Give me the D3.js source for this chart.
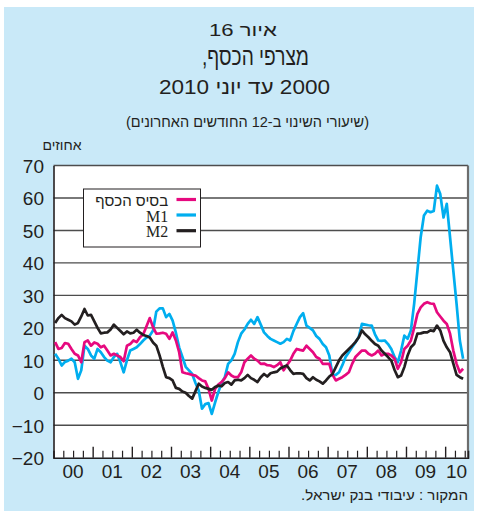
<!DOCTYPE html>
<html><head><meta charset="utf-8">
<script src="https://cdn.jsdelivr.net/npm/d3@7"></script>
<style>body{margin:0;background:#fff}svg{display:block}</style>
</head><body>
<svg id="c" width="478" height="518"></svg>
<script>
// Monthly data, Jan 2000 .. Jun 2010 (12-month % change)
const monetaryBase = [15.6,13.5,13.8,15.3,15.1,13.5,12,11.5,9.4,15.6,16.1,14.5,
15.5,15.1,14,14.5,13,11.5,12,11.5,11,9.7,14.5,15,
16.1,15.6,17.1,18,20.5,23,20.2,18.2,18.3,18.5,18.2,16.6,
18.6,16.1,12.5,6.3,6,5.8,5.5,5.3,4.5,3.8,3.5,1.2,
-2.4,1.2,2.5,3.3,4.5,6.3,5.3,4.8,4.8,6.3,9.4,10.5,
11.5,10.5,9.9,8.9,9,8.5,8.4,7.9,8.5,9.4,6.9,8.5,
9.9,12,13.5,13.2,13,14.5,13.5,12.5,11,10.5,8.9,8.9,
8.9,5.5,3.8,4.3,4.8,5.5,6.3,8.9,11,12,13,13,
12,11.5,12,13,11.5,12,12,11.5,10.5,7.4,9.4,13.5,
14.5,16.1,20,24.3,26.3,27.4,27.9,27.5,27.4,24.8,23.5,22.2,
21.2,18.2,13,8.9,6.3,7.4];
const m1 = [12,10.5,8.4,9.5,9.9,10.5,9.4,4.3,6.9,14.5,13.5,11.5,
10.5,13.5,12.5,11,9.9,9.4,11,12,9.4,6.3,10,13,
13.5,14,15,16.1,17,17.6,19.2,25,26,26,23.3,24.3,
22.2,18.5,14,11,8,6.9,5.8,3,0.7,-4.9,-3.5,-3.2,
-6.5,-3,0.2,3,4.8,8.9,10,12,15.6,18.2,19.5,21.2,
22.5,21.2,23.3,21,18.6,17.5,16.6,16.1,15.6,15.1,15.6,16.6,
16.1,19,21.2,23.3,24.5,20.7,20,19.2,17.5,16.6,15,14,
11.5,5.3,5.5,6.3,8.5,11,12.5,14,15.5,17.1,21.2,21,
20.8,20.7,18,16.1,16,16.1,15,13.5,11,9.4,13,17.6,
16.6,19.2,27.4,37.6,47.9,54.6,56.1,55.6,56,63.8,61.2,54,
58.2,47.9,37.6,27.4,16.1,10.5];
const m2 = [21.5,23,24,23,22.5,22,21,21.5,23.5,25.8,23.8,24,
22,20,18.3,18.5,18.6,19.5,21,20,19,18,18.9,18.3,
18.5,19.4,18.5,17.8,17.5,17,15.5,14.5,11.5,8,4.8,4.5,
3.8,1.5,1.2,0.4,0,-1,-1.8,0.5,2.8,1.9,1.5,1.2,
0.9,1.8,2.2,2,3,3.3,2.5,3.8,4,3.8,4.5,5.5,
4.5,4,3.3,4.8,5.8,5,6,6.3,6.5,7.5,8,8.4,
7,5.8,6,6,5.8,4.5,3.8,4.8,4,3.5,2.8,3.8,
5,5.8,7.9,10,11.5,12.5,13.5,14.5,15.6,17,19.2,18,
17.1,16,15,14.5,13,12,11,9.9,7,4.8,5.3,7.9,
11.5,14,15,18.2,18.3,18.6,18.6,19.2,19,20.7,19.2,16,
14,12.5,9,5.5,4.8,4.3];
const yTicks = [-20,-10,0,10,20,30,40,50,60,70];
const yearLabels = ["00","01","02","03","04","05","06","07","08","09","10"];
const seriesNames = ["בסיס הכסף","M1","M2"];
const seriesColors = ["#e6097f","#00aeef","#231f20"];
const titleLines = ["איור 16","מצרפי הכסף,","2000 עד יוני 2010","(שיעורי השינוי ב-12 החודשים האחרונים)"];
const unitLabel = "אחוזים";
const sourceText = "המקור : עיבודי בנק ישראל.";

const svg = d3.select("#c");
const L = 53.5, R = 468, T = 165.5, B = 457.7;
const nMonths = 127;
const x = d3.scaleLinear().domain([0, nMonths]).range([L, R]);
const y = d3.scaleLinear().domain([-20, 70]).range([B, T]);

svg.append("rect").attr("x",4).attr("y",7).attr("width",470).attr("height",504).attr("fill","#c9e9f8");
svg.append("rect").attr("x",L).attr("y",T).attr("width",R-L).attr("height",B-T).attr("fill","#fff");

// titles
const hfont = "'Liberation Sans','DejaVu Sans',sans-serif";
const tspec = [{x:243,y:36,s:16.5,w:68},{x:255.5,y:65,s:25,w:107},{x:244.5,y:94,s:20.5,w:171},{x:247.5,y:127,s:15.5,w:243}];
titleLines.forEach((t,i)=>{
  svg.append("text").attr("x",tspec[i].x).attr("y",tspec[i].y).attr("text-anchor","middle")
    .attr("direction","rtl").style("unicode-bidi","embed")
    .attr("textLength",tspec[i].w).attr("lengthAdjust","spacingAndGlyphs")
    .attr("font-family",hfont).attr("font-size",tspec[i].s).attr("fill","#231f20").text(t);
});
svg.append("text").attr("x",62).attr("y",150).attr("text-anchor","middle")
  .attr("direction","rtl").style("unicode-bidi","embed")
  .attr("font-family",hfont).attr("font-size",14).attr("fill","#231f20").text(unitLabel);
svg.append("text").attr("x",384.5).attr("y",500).attr("text-anchor","middle")
  .attr("direction","rtl").style("unicode-bidi","embed")
  .attr("textLength",167).attr("lengthAdjust","spacingAndGlyphs")
  .attr("font-family",hfont).attr("font-size",14).attr("fill","#231f20").text(sourceText);

// gridlines
svg.append("g").selectAll("line").data(yTicks.filter(v=>v>-20 && v<70)).join("line")
  .attr("x1",L).attr("x2",R).attr("y1",d=>y(d)).attr("y2",d=>y(d))
  .attr("stroke","#4d4d4d").attr("stroke-width",1.4);
// top & right frame
svg.append("line").attr("x1",L).attr("x2",R).attr("y1",T).attr("y2",T).attr("stroke","#4d4d4d").attr("stroke-width",1.6);
svg.append("line").attr("x1",R).attr("x2",R).attr("y1",T).attr("y2",B).attr("stroke","#6d6d6d").attr("stroke-width",2.2);

// y axis
const ya = svg.append("g").attr("transform",`translate(${L},0)`)
  .call(d3.axisLeft(y).tickValues(yTicks).tickSize(0).tickPadding(9.5).tickFormat(d3.format("d")));
ya.select(".domain").attr("stroke","#231f20").attr("stroke-width",1.6);
ya.selectAll("text").attr("font-family","'Liberation Sans',Arial,sans-serif").attr("font-size",19).attr("fill","#231f20").attr("dy","0.36em");

// x axis ticks (quarterly minor, yearly major), pointing up
const xa = svg.append("g").attr("transform",`translate(0,${B})`)
  .call(d3.axisBottom(x).tickValues(d3.range(3,nMonths,3).filter(v=>v%12!==0)).tickSize(-7).tickFormat(""));
xa.select(".domain").attr("stroke","#231f20").attr("stroke-width",1.6);
xa.selectAll(".tick line").attr("stroke","#231f20").attr("stroke-width",1.2);
const xb = svg.append("g").attr("transform",`translate(0,${B})`)
  .call(d3.axisBottom(x).tickValues(d3.range(12,nMonths,12)).tickSize(-11).tickFormat(""));
xb.select(".domain").remove();
xb.selectAll(".tick line").attr("stroke","#231f20").attr("stroke-width",1.4);
svg.append("g").selectAll("text").data(yearLabels).join("text")
  .attr("x",(d,i)=>x((i*12+Math.min(i*12+12,nMonths))/2))
  .attr("y",478).attr("text-anchor","middle")
  .attr("font-family","'Liberation Sans',Arial,sans-serif").attr("font-size",19).attr("fill","#231f20").text(d=>d);

// lines
const line = d3.line().x((d,i)=>x(i+0.5)).y(d=>y(d)).curve(d3.curveLinear);
[[m1,1],[monetaryBase,0],[m2,2]].forEach(([arr,k])=>{
  svg.append("path").datum(arr).attr("d",line).attr("fill","none")
    .attr("stroke",seriesColors[k]).attr("stroke-width",2.7).attr("stroke-linejoin","round");
});

// legend
const lg = svg.append("g");
lg.append("rect").attr("x",83.5).attr("y",189).attr("width",117).attr("height",58)
  .attr("fill","#fff").attr("stroke","#231f20").attr("stroke-width",1);
const ly = [199.5,215,230.7];
seriesNames.forEach((nm,i)=>{
  lg.append("line").attr("x1",176.5).attr("x2",196).attr("y1",ly[i]).attr("y2",ly[i])
    .attr("stroke",seriesColors[i]).attr("stroke-width",3.2);
  const t = lg.append("text").attr("y",ly[i]+(i===0?6:6.5)).attr("fill","#231f20");
  if(i===0){
    t.attr("x",131.7).attr("text-anchor","middle").attr("direction","rtl").style("unicode-bidi","embed")
     .attr("textLength",73).attr("lengthAdjust","spacingAndGlyphs")
     .attr("font-family",hfont).attr("font-size",15).text(nm);
  } else {
    t.attr("x",168.3).attr("text-anchor","end").attr("font-family","'Liberation Serif','DejaVu Serif',serif")
     .attr("font-size",16).text(nm);
  }
});
</script>
</body></html>
